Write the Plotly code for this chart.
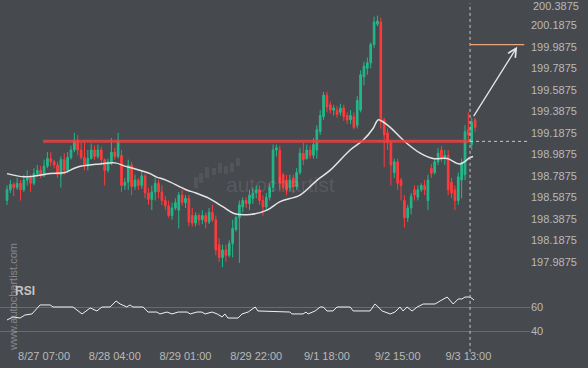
import plotly.graph_objects as go

# ---------------- data ----------------
opens = [198.56,198.66,198.71,198.68,198.72,198.66,198.75,198.77,198.72,198.81,
         198.84,198.79,198.88,198.95,198.92,198.89,198.80,198.94,198.84,198.96,
         199.03,199.12,199.03,198.96,198.88,198.95,199.03,198.97,199.03,198.94,
         198.84,198.92,199.01,198.97,198.98,198.70,198.73,198.89,198.69,198.75,
         198.70,198.79,198.63,198.57,198.64,198.72,198.64,198.56,198.51,198.42,
         198.49,198.47,198.61,198.54,198.58,198.42,198.35,198.42,198.38,198.42,
         198.36,198.45,198.38,198.15,198.03,198.10,198.05,198.16,198.29,198.40,
         198.50,198.56,198.53,198.58,198.63,198.66,198.56,198.50,198.59,198.68,
         199.03,199.03,198.80,198.75,198.68,198.77,198.69,198.82,199.00,198.95,
         199.03,198.98,199.03,199.20,199.34,199.54,199.45,199.40,199.40,199.38,
         199.42,199.35,199.31,199.34,199.26,199.40,199.71,199.79,199.84,200.01,
         200.20,200.22,199.31,199.19,199.10,198.82,198.92,198.75,198.56,198.40,
         198.49,198.66,198.59,198.66,198.70,198.56,198.86,198.82,198.92,199.03,
         198.95,198.98,198.73,198.66,198.56,198.75,198.80,199.22,199.08,199.31]
highs = [198.70,198.75,198.73,198.77,198.75,198.80,198.84,198.80,198.86,198.89,
         198.88,198.94,199.01,199.01,198.94,198.92,198.97,199.00,199.01,199.07,
         199.19,199.17,199.10,199.10,199.03,199.09,199.07,199.08,199.06,198.95,
         198.95,199.14,199.05,199.19,199.03,198.77,198.94,198.92,198.80,198.77,
         198.84,198.81,198.68,198.70,198.77,198.75,198.70,198.60,198.56,198.54,
         198.58,198.64,198.66,198.61,198.61,198.49,198.45,198.44,198.47,198.45,
         198.49,198.52,198.42,198.21,198.15,198.15,198.19,198.38,198.42,198.56,
         198.59,198.59,198.66,198.68,198.70,198.70,198.61,198.63,198.72,199.08,
         199.08,199.07,198.82,198.80,198.80,198.80,198.86,199.05,199.10,199.08,
         199.07,199.14,199.26,199.40,199.57,199.57,199.48,199.45,199.44,199.46,
         199.45,199.38,199.40,199.38,199.53,199.77,199.85,199.89,200.03,200.27,
         200.28,200.26,199.33,199.23,199.12,198.95,198.95,198.77,198.61,198.52,
         198.63,198.70,198.70,198.72,198.75,198.80,198.90,198.95,199.05,199.07,
         199.03,199.03,198.77,198.70,198.82,198.95,199.26,199.38,199.33,199.33]
lows = [198.52,198.63,198.60,198.66,198.56,198.64,198.70,198.64,198.70,198.78,
        198.77,198.78,198.86,198.88,198.86,198.77,198.68,198.80,198.82,198.94,
        199.01,198.98,198.94,198.84,198.84,198.94,198.94,198.95,198.89,198.70,
        198.82,198.89,198.94,198.95,198.64,198.66,198.66,198.61,198.66,198.66,
        198.67,198.58,198.52,198.47,198.56,198.58,198.52,198.47,198.40,198.38,
        198.47,198.30,198.51,198.49,198.32,198.32,198.32,198.33,198.34,198.30,
        198.34,198.36,198.05,197.99,197.94,197.99,198.03,198.03,198.27,197.98,
        198.45,198.49,198.47,198.53,198.58,198.52,198.42,198.47,198.56,198.64,
        198.97,198.66,198.64,198.61,198.64,198.63,198.66,198.80,198.89,198.94,
        198.95,198.95,198.95,199.17,199.31,199.38,199.37,199.35,199.33,199.35,
        199.30,199.27,199.27,199.22,199.23,199.38,199.63,199.73,199.79,199.98,
        200.18,199.23,198.87,199.03,198.70,198.77,198.66,198.56,198.31,198.36,
        198.43,198.56,198.56,198.64,198.61,198.47,198.77,198.80,198.89,198.92,
        198.89,198.61,198.58,198.47,198.52,198.58,198.75,199.12,199.03,199.20]
closes = [198.66,198.71,198.68,198.72,198.66,198.75,198.77,198.72,198.81,198.84,
          198.79,198.88,198.95,198.92,198.89,198.80,198.94,198.84,198.96,199.03,
          199.12,199.03,198.96,198.88,198.95,199.03,198.97,199.03,198.94,198.84,
          198.92,199.01,198.97,199.12,198.70,198.73,198.89,198.69,198.75,198.70,
          198.79,198.63,198.57,198.64,198.72,198.64,198.56,198.51,198.42,198.49,
          198.54,198.61,198.54,198.58,198.36,198.35,198.42,198.38,198.42,198.36,
          198.45,198.38,198.10,198.03,198.10,198.05,198.16,198.30,198.40,198.52,
          198.56,198.53,198.61,198.63,198.66,198.56,198.50,198.59,198.68,199.03,
          199.05,198.72,198.68,198.66,198.75,198.69,198.82,199.00,198.94,199.03,
          198.98,199.08,199.22,199.35,199.54,199.43,199.40,199.42,199.36,199.42,
          199.34,199.31,199.35,199.24,199.49,199.73,199.81,199.84,200.01,200.22,
          200.23,199.29,199.17,199.10,198.89,198.92,198.72,198.70,198.40,198.49,
          198.60,198.61,198.66,198.70,198.66,198.75,198.81,198.92,199.00,198.96,
          198.98,198.66,198.63,198.56,198.78,198.91,199.20,199.17,199.29,199.24]
candle_idx = list(range(len(closes)))

# moving average (candle position, price)
ma_pos = [0,5.3,12.8,17.2,20.8,27.6,32.1,35,37.4,42.5,44.3,47.2,53.2,56.1,60,64.2,
          67.4,72.2,77.2,81.1,87,92.1,95.9,101.9,105.7,108.7,110.2,111.7,113.8,
          116.7,118.8,122.7,126.5,130.7,134.5,137.5,138.4]
ma_val = [198.81,198.78,198.81,198.82,198.87,198.90,198.91,198.88,198.86,198.81,
          198.78,198.75,198.66,198.63,198.58,198.50,198.44,198.43,198.47,198.55,
          198.61,198.75,198.84,199.03,199.12,199.23,199.31,199.29,199.24,199.15,
          199.09,199.00,198.95,198.95,198.90,198.96,198.97]

# RSI (candle position, value)
rsi_pos = [0,1.8,3.9,5.3,7.4,9.8,12.8,13.7,19.6,22.3,24.7,26.7,28.2,30.6,32.4,33.6,
           35.6,36.5,37.4,40.4,41.9,44.5,45.4,47.5,49,50.8,53.5,54.4,56.4,57.9,58.8,
           60.9,62.4,63.9,64.7,65.6,68.6,69.8,71.6,73.7,74.5,84,84.6,87.9,88.8,89.4,
           91.5,93,93.9,95,96.8,98,101.9,102.8,107.8,109.3,111.4,113.8,115.2,116.7,
           117.6,118.8,120.3,121.8,123.6,127.1,128.6,130.7,132.5,134,135.1,136,137.5,138.7]
rsi_val = [49.2,51.7,50.8,53.3,54.2,61.7,61.7,60,60,54.2,59.2,56.7,60,60,65,62.5,
           60,61.7,60,60,55.8,55.8,54.2,55.8,54.2,55.8,55.8,54.2,55.8,55.8,54.2,
           55.8,54.2,51.7,54.2,50.8,50.8,54.2,55.8,60,56.7,55.8,54.2,54.2,55.8,54.2,
           56.7,60,60,56.7,56.7,60,60,56.7,56.7,62.5,56.7,54.2,55.8,60,
           56.7,60,56.7,60,62.5,62.5,65,68.3,62.5,66.7,66.7,68.3,68.3,65.8]

price_ticks = [197.9875,198.1875,198.3875,198.5875,198.7875,198.9875,
               199.1875,199.3875,199.5875,199.7875,199.9875,200.1875,200.3875]
time_tick_pos = [11,32,53,74,95,116,137]
time_tick_text = ["8/27 07:00","8/28 04:00","8/29 01:00","8/29 22:00",
                  "9/1 18:00","9/2 15:00","9/3 13:00"]
rsi_ticks = [40,60]

resistance_level = 199.11
resistance_start = 10.7
signal_pos = 137.5
target_level = 200.01
target_end = 153.6
arrow_start = (138.3, 199.33)
arrow_end = (151.5, 199.99)

# ---------------- styling ----------------
BG = "#46494e"
GREEN = "#22b98a"
RED = "#ff3b3b"
TXT = "#b9b9b9"
FONT = "Liberation Sans, Arial, sans-serif"
W, H = 588, 368
ML, MR, MT, MB = 0, 58, 0, 23
PW, PH = W - ML - MR, H - MT - MB
X_RANGE = [-2.08, 155.3]
Y_RANGE = [197.8207, 200.4247]

fig = go.Figure()
fig.add_trace(go.Candlestick(
    x=candle_idx, open=opens, high=highs, low=lows, close=closes,
    increasing=dict(line=dict(color=GREEN, width=1), fillcolor=GREEN),
    decreasing=dict(line=dict(color=RED, width=1), fillcolor=RED),
    whiskerwidth=0, hoverinfo="skip", showlegend=False, xaxis="x", yaxis="y"))
fig.add_trace(go.Scatter(x=ma_pos, y=ma_val, mode="lines",
                         line=dict(color="#e4e4e4", width=1.5, shape="spline"),
                         hoverinfo="skip", showlegend=False, xaxis="x", yaxis="y"))
fig.add_trace(go.Scatter(x=rsi_pos, y=rsi_val, mode="lines",
                         line=dict(color="#f2f2f2", width=1),
                         hoverinfo="skip", showlegend=False, xaxis="x2", yaxis="y2"))

def px_x(p):
    return (p - ML) / PW

def px_y(p):
    return (H - MB - p) / PH

shapes = [
    dict(type="line", xref="x", yref="y", x0=resistance_start, x1=signal_pos,
         y0=resistance_level, y1=resistance_level,
         line=dict(color="rgba(236,64,64,0.85)", width=3), layer="above"),
    dict(type="line", xref="x", yref="y", x0=signal_pos, x1=X_RANGE[1],
         y0=resistance_level, y1=resistance_level,
         line=dict(color="#c8c8c8", width=1, dash="3px,3px")),
    dict(type="line", xref="x", yref="paper", x0=signal_pos, x1=signal_pos,
         y0=-0.02, y1=0.99, line=dict(color="#c8c8c8", width=1, dash="3px,3px")),
    dict(type="line", xref="x", yref="y", x0=signal_pos, x1=target_end,
         y0=target_level, y1=target_level,
         line=dict(color="#eaa57a", width=1.2)),
]
# faint logo bars of the watermark
logo_bars = [(194, 198, 177, 188), (199, 203, 173, 183), (205, 209, 167, 178),
             (212, 216, 168, 175), (218, 222, 163, 173), (224, 228, 166, 174),
             (230, 234, 163, 172), (236, 240, 158, 166)]
for x0, x1, y0, y1 in logo_bars:
    shapes.append(dict(type="rect", xref="paper", yref="paper",
                       x0=px_x(x0), x1=px_x(x1), y0=px_y(y1), y1=px_y(y0),
                       line=dict(width=0), fillcolor="rgba(255,255,255,0.07)",
                       layer="below"))

annotations = [
    dict(x=arrow_end[0], y=arrow_end[1], ax=arrow_start[0], ay=arrow_start[1],
         xref="x", yref="y", axref="x", ayref="y", text="", showarrow=True,
         arrowhead=5, arrowsize=1.3, arrowwidth=1.3, arrowcolor="#e6e6e6"),
    dict(x=px_x(13), y=px_y(291), xref="paper", yref="paper", text="<b>RSI</b>",
         showarrow=False, xanchor="left", yanchor="middle",
         font=dict(family=FONT, size=12, color="#c4c4c4")),
    dict(x=px_x(13), y=px_y(297), xref="paper", yref="paper",
         text="www.autochartist.com", textangle=-90, showarrow=False,
         xanchor="center", yanchor="middle",
         font=dict(family=FONT, size=11, color="rgba(200,200,200,0.5)")),
    dict(x=px_x(280), y=px_y(185), xref="paper", yref="paper", text="autochartist",
         showarrow=False, xanchor="center", yanchor="middle",
         font=dict(family=FONT, size=21, color="rgba(255,255,255,0.1)")),
]

# the topmost price label sits at the very top edge; draw it as text kept inside
top_tick = price_ticks[-1]
annotations.append(dict(x=1, y=1, xref="paper", yref="paper",
                        text=f"{top_tick:.4f}", showarrow=False,
                        xanchor="left", yanchor="top", xshift=2, yshift=1,
                        borderpad=0,
                        font=dict(family=FONT, size=11, color=TXT)))

fig.update_layout(
    width=W, height=H, margin=dict(l=ML, r=MR, t=MT, b=MB),
    paper_bgcolor=BG, plot_bgcolor=BG, showlegend=False,
    font=dict(family=FONT, size=11, color=TXT),
    xaxis=dict(domain=[0, 1], range=X_RANGE, anchor="y", showticklabels=False,
               showgrid=False, zeroline=False, showline=False,
               rangeslider=dict(visible=False), fixedrange=True),
    yaxis=dict(domain=[1 - 280 / PH, 1], range=Y_RANGE, side="right",
               tickvals=price_ticks[:-1],
               ticktext=[f"{v:.4f}" for v in price_ticks[:-1]],
               showgrid=False, zeroline=False, showline=False, ticks="",
               tickfont=dict(family=FONT, size=11, color=TXT)),
    xaxis2=dict(domain=[0, 1], range=X_RANGE, anchor="y2", tickvals=time_tick_pos,
                ticktext=time_tick_text, showgrid=False, zeroline=False,
                showline=False, ticks="", ticklabelstandoff=3,
                tickfont=dict(family=FONT, size=11, color=TXT)),
    yaxis2=dict(domain=[0, 60 / PH], range=[28.33, 78.33], side="right",
                tickvals=rsi_ticks, ticktext=[str(v) for v in rsi_ticks],
                showgrid=True, gridcolor="#686b70", gridwidth=1, zeroline=False,
                showline=False, ticks="",
                tickfont=dict(family=FONT, size=11, color=TXT)),
    shapes=shapes, annotations=annotations,
)

fig.write_html("out.html", config={"displayModeBar": False},
               post_script="document.body.style.margin='0';"
                           "document.body.style.background='" + BG + "';")
